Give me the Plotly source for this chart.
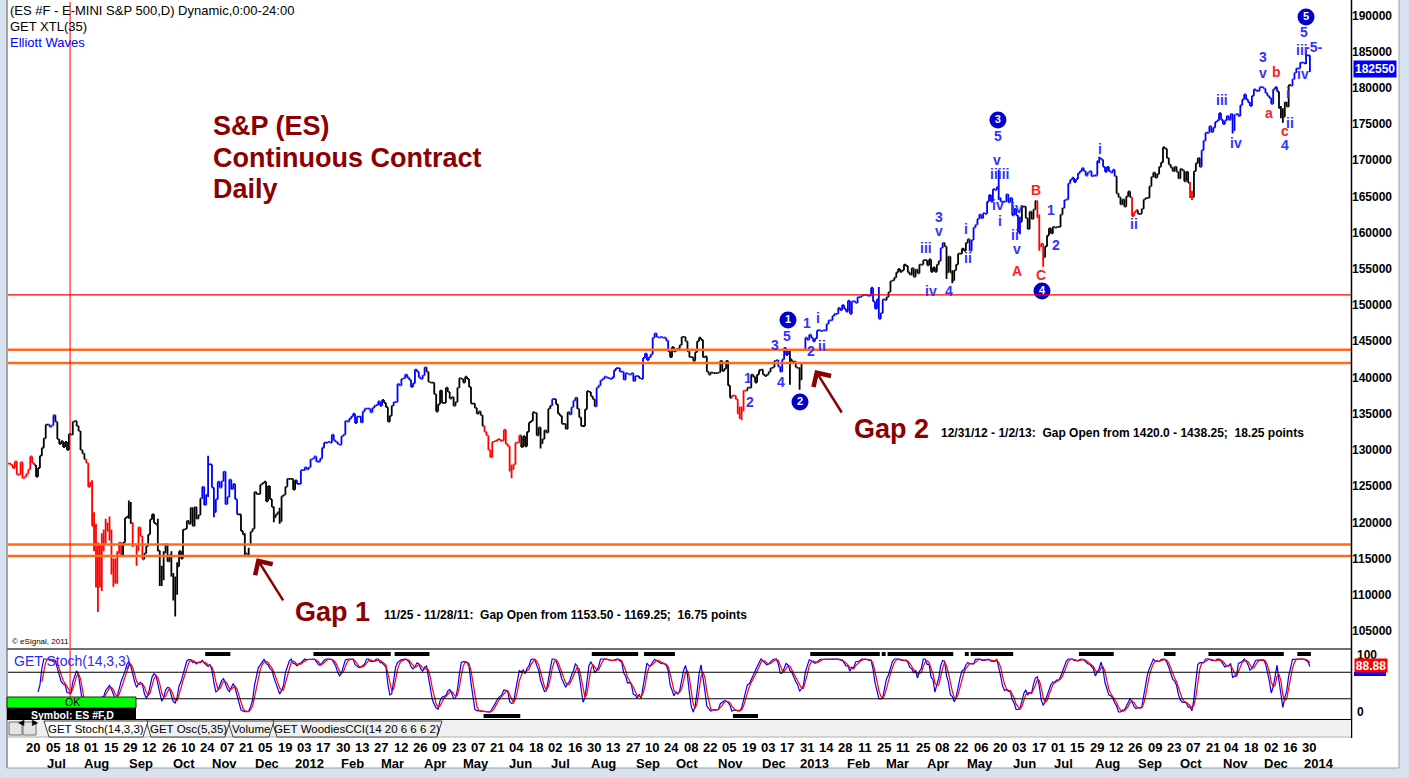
import numpy as np
import pandas as pd
import plotly.graph_objects as go

W, H = 1409, 778
FONT = "Liberation Sans, Arial, sans-serif"

# ES #F daily closes (index points), one list per month of weekdays
close_2011_06 = [1281, 1279, 1275, 1284, 1266, 1266, 1283, 1261, 1263, 1267, 1273, 1291, 1282, 1279, 1263, 1275, 1292, 1303, 1316]
close_2011_07 = [1335, 1335, 1332, 1334, 1348, 1339, 1315, 1308, 1312, 1304, 1311, 1300, 1322, 1321, 1339, 1340, 1333, 1326, 1300, 1295, 1287]
close_2011_08 = [1282, 1249, 1255, 1195, 1194, 1114, 1167, 1116, 1167, 1174, 1199, 1188, 1188, 1135, 1119, 1119, 1157, 1172, 1154, 1172, 1206, 1208, 1214]
close_2011_09 = [1199, 1169, 1169, 1161, 1193, 1181, 1149, 1157, 1167, 1183, 1204, 1211, 1199, 1197, 1161, 1125, 1131, 1158, 1170, 1146, 1155, 1126]
close_2011_10 = [1094, 1119, 1139, 1160, 1150, 1190, 1191, 1202, 1198, 1220, 1195, 1221, 1205, 1210, 1233, 1249, 1224, 1238, 1280, 1280, 1248]
close_2011_11 = [1214, 1232, 1256, 1248, 1257, 1270, 1225, 1235, 1259, 1246, 1253, 1232, 1211, 1211, 1188, 1183, 1157, 1156, 1153.5, 1187, 1191, 1242]
close_2011_12 = [1239, 1239, 1252, 1254, 1256, 1229, 1250, 1232, 1221, 1207, 1211, 1214, 1201, 1236, 1238, 1249, 1260, 1260, 1260, 1245, 1258, 1253]
close_2012_01 = [1253, 1272, 1272, 1276, 1273, 1276, 1287, 1288, 1291, 1284, 1284, 1288, 1303, 1310, 1310, 1311, 1310, 1321, 1313, 1311, 1308, 1307]
close_2012_02 = [1319, 1321, 1340, 1339, 1343, 1346, 1350, 1337, 1346, 1346, 1338, 1353, 1357, 1357, 1357, 1352, 1358, 1361, 1362, 1367, 1361]
close_2012_03 = [1369, 1365, 1359, 1339, 1347, 1361, 1366, 1366, 1391, 1389, 1398, 1399, 1404, 1400, 1397, 1387, 1392, 1411, 1408, 1400, 1398, 1403]
close_2012_04 = [1414, 1408, 1394, 1393, 1393, 1377, 1353, 1363, 1382, 1365, 1365, 1386, 1380, 1371, 1373, 1361, 1366, 1386, 1399, 1398, 1393]
close_2012_05 = [1401, 1398, 1387, 1364, 1364, 1358, 1350, 1353, 1348, 1333, 1325, 1320, 1300, 1290, 1311, 1312, 1313, 1315, 1313, 1313, 1328, 1308, 1305]
close_2012_06 = [1273, 1273, 1280, 1310, 1310, 1320, 1304, 1319, 1305, 1325, 1338, 1340, 1352, 1351, 1320, 1331, 1309, 1315, 1327, 1324, 1357]
close_2012_07 = [1361, 1370, 1370, 1363, 1350, 1347, 1336, 1336, 1329, 1352, 1349, 1359, 1368, 1372, 1357, 1345, 1333, 1333, 1356, 1381, 1380, 1374]
close_2012_08 = [1370, 1360, 1386, 1389, 1396, 1398, 1401, 1400, 1399, 1398, 1400, 1410, 1413, 1413, 1408, 1408, 1397, 1406, 1405, 1404, 1406, 1395, 1402]
close_2012_09 = [1402, 1399, 1398, 1427, 1433, 1424, 1428, 1432, 1455, 1461, 1456, 1455, 1456, 1455, 1455, 1451, 1436, 1428, 1442, 1436]
close_2012_10 = [1439, 1440, 1445, 1456, 1456, 1450, 1436, 1428, 1428, 1423, 1435, 1450, 1455, 1452, 1428, 1429, 1408, 1404, 1407, 1406, 1406, 1406, 1407]
close_2012_11 = [1423, 1409, 1412, 1423, 1389, 1372, 1375, 1375, 1370, 1350, 1348, 1354, 1382, 1382, 1386, 1386, 1404, 1401, 1393, 1404, 1410, 1411]
close_2012_12 = [1404, 1402, 1404, 1408, 1413, 1414, 1423, 1424, 1415, 1408, 1425, 1441, 1431, 1438, 1425, 1422, 1422, 1414, 1413, 1397, 1420]
close_2013_01 = [1420, 1455, 1452, 1459, 1455, 1450, 1454, 1465, 1465, 1464, 1465, 1465, 1474, 1479, 1479, 1485, 1488, 1488, 1496, 1493, 1500, 1495, 1491]
close_2013_02 = [1506, 1488, 1505, 1505, 1503, 1511, 1511, 1513, 1514, 1514, 1513, 1513, 1524, 1505, 1495, 1508, 1481, 1489, 1508, 1507]
close_2013_03 = [1511, 1518, 1533, 1534, 1538, 1545, 1550, 1546, 1548, 1556, 1554, 1545, 1542, 1551, 1539, 1549, 1544, 1556, 1556, 1562, 1562]
close_2013_04 = [1555, 1563, 1546, 1552, 1546, 1556, 1561, 1579, 1586, 1581, 1545, 1567, 1545, 1534, 1548, 1556, 1571, 1571, 1578, 1575, 1586, 1591]
close_2013_05 = [1575, 1590, 1607, 1611, 1619, 1625, 1620, 1627, 1626, 1643, 1652, 1643, 1660, 1659, 1663, 1648, 1643, 1643, 1643, 1653, 1642, 1648, 1624]
close_2013_06 = [1633, 1624, 1601, 1615, 1636, 1636, 1620, 1605, 1629, 1619, 1632, 1644, 1621, 1581, 1585, 1566, 1581, 1596, 1606, 1599]
close_2013_07 = [1608, 1607, 1608, 1608, 1625, 1634, 1645, 1646, 1668, 1673, 1676, 1670, 1674, 1682, 1685, 1689, 1685, 1679, 1683, 1685, 1678, 1679, 1679]
close_2013_08 = [1699, 1703, 1701, 1691, 1684, 1691, 1685, 1683, 1687, 1678, 1654, 1649, 1639, 1646, 1636, 1650, 1657, 1649, 1623, 1628, 1631, 1626]
close_2013_09 = [1626, 1633, 1646, 1648, 1648, 1664, 1677, 1683, 1676, 1681, 1691, 1697, 1718, 1716, 1703, 1694, 1690, 1685, 1691, 1684, 1675]
close_2013_10 = [1688, 1686, 1671, 1684, 1669, 1649, 1649, 1685, 1696, 1703, 1691, 1714, 1727, 1738, 1738, 1747, 1739, 1745, 1753, 1755, 1765, 1756, 1750]
close_2013_11 = [1755, 1761, 1756, 1764, 1741, 1763, 1764, 1761, 1776, 1784, 1791, 1784, 1780, 1775, 1789, 1798, 1796, 1796, 1801, 1801, 1799]
close_2013_12 = [1793, 1789, 1786, 1778, 1798, 1801, 1795, 1772, 1762, 1760, 1780, 1774, 1804, 1803, 1812, 1821, 1827, 1827, 1835, 1835, 1834, 1845]
close_2014_01 = [1845, 1825.5]

months = [close_2011_06, close_2011_07, close_2011_08, close_2011_09, close_2011_10, close_2011_11, close_2011_12,
          close_2012_01, close_2012_02, close_2012_03, close_2012_04, close_2012_05, close_2012_06,
          close_2012_07, close_2012_08, close_2012_09, close_2012_10, close_2012_11, close_2012_12,
          close_2013_01, close_2013_02, close_2013_03, close_2013_04, close_2013_05, close_2013_06,
          close_2013_07, close_2013_08, close_2013_09, close_2013_10, close_2013_11, close_2013_12,
          close_2014_01]

# gap opens noted on the chart
gap_opens = {"2011-11-28": 1169.25, "2013-01-02": 1438.25}

# intraday highs / lows of the bars that stick out on the chart: date -> (high, low)
bar_extremes = {
    "2011-08-04": (1258, 1195), "2011-08-05": (1214, 1160), "2011-08-08": (1198, 1110),
    "2011-08-09": (1172, 1076), "2011-08-10": (1170, 1110), "2011-08-11": (1185, 1105),
    "2011-08-12": (1190, 1160), "2011-08-15": (1205, 1170), "2011-08-17": (1208, 1175),
    "2011-08-18": (1190, 1128), "2011-08-19": (1150, 1111), "2011-08-22": (1150, 1115),
    "2011-08-23": (1160, 1115), "2011-08-31": (1230, 1205), "2011-09-01": (1228, 1198),
    "2011-09-02": (1200, 1166), "2011-09-06": (1170, 1140), "2011-09-21": (1205, 1160),
    "2011-09-22": (1160, 1112), "2011-09-23": (1140, 1112), "2011-09-26": (1160, 1120),
    "2011-09-30": (1160, 1125), "2011-10-03": (1130, 1092), "2011-10-04": (1125, 1070),
    "2011-10-05": (1145, 1100), "2011-10-27": (1292, 1235), "2011-11-01": (1240, 1207),
    "2011-11-23": (1185, 1155), "2011-11-25": (1165, 1152), "2011-12-14": (1222, 1200),
    "2011-12-19": (1220, 1198), "2012-06-01": (1305, 1270), "2012-06-04": (1280, 1261),
    "2012-06-25": (1325, 1302), "2012-11-15": (1360, 1343), "2012-11-16": (1360, 1341),
    "2012-12-21": (1438, 1390), "2012-12-28": (1414, 1383), "2013-02-25": (1525, 1481),
    "2013-04-15": (1581, 1536), "2013-04-18": (1548, 1530), "2013-05-22": (1687, 1645),
    "2013-06-06": (1622, 1598), "2013-06-20": (1625, 1575), "2013-06-24": (1585, 1553),
    "2013-08-02": (1705, 1696), "2013-08-27": (1649, 1623), "2013-10-08": (1670, 1648),
    "2013-10-09": (1658, 1645), "2013-11-07": (1764, 1737), "2013-12-12": (1775, 1758),
    "2013-12-13": (1772, 1752), "2013-12-31": (1852, 1833), "2014-01-02": (1845, 1822),
}

# GET XTL bar colouring: date where each colour starts
color_changes = [("2011-06-06", "red"), ("2011-06-24", "black"), ("2011-07-05", "blue"), ("2011-07-08", "black"),
                 ("2011-08-01", "red"), ("2011-08-26", "black"), ("2011-09-02", "red"), ("2011-09-12", "black"),
                 ("2011-10-24", "blue"), ("2011-11-18", "black"), ("2011-12-30", "blue"), ("2012-03-02", "black"),
                 ("2012-03-09", "blue"), ("2012-04-03", "black"), ("2012-05-15", "red"), ("2012-06-11", "black"),
                 ("2012-07-03", "blue"), ("2012-07-05", "black"), ("2012-07-17", "blue"), ("2012-07-20", "black"),
                 ("2012-08-03", "blue"), ("2012-09-26", "black"), ("2012-11-09", "red"), ("2012-11-21", "black"),
                 ("2012-12-12", "blue"), ("2012-12-21", "black"), ("2013-01-02", "blue"), ("2013-03-01", "black"),
                 ("2013-04-10", "blue"), ("2013-04-12", "black"), ("2013-05-01", "blue"), ("2013-06-07", "black"),
                 ("2013-06-19", "red"), ("2013-06-25", "black"), ("2013-07-09", "blue"), ("2013-08-15", "black"),
                 ("2013-08-27", "red"), ("2013-08-30", "black"), ("2013-10-08", "red"), ("2013-10-10", "black"),
                 ("2013-10-16", "blue"), ("2013-12-11", "black"), ("2013-12-20", "blue")]
bar_hex = {"black": "#000000", "blue": "#0000ff", "red": "#ff0000"}

# black run markers above / below the stochastic pane
stoch_top_runs = [("2011-10-26", "2011-11-11"), ("2012-01-12", "2012-03-07"), ("2012-03-12", "2012-04-04"),
                  ("2012-08-01", "2012-09-03"), ("2012-09-07", "2012-09-28"), ("2013-01-07", "2013-02-25"),
                  ("2013-02-27", "2013-02-28"), ("2013-03-04", "2013-04-18"), ("2013-04-29", "2013-04-30"),
                  ("2013-05-02", "2013-05-31"), ("2013-07-19", "2013-08-13"), ("2013-09-19", "2013-09-26"),
                  ("2013-10-22", "2013-12-13"), ("2013-12-25", "2014-01-02")]
stoch_bottom_runs = [("2012-05-15", "2012-06-08"), ("2012-11-12", "2012-11-28")]

red_level = 1514.0
gap_levels = [1438.25, 1420.0, 1169.25, 1153.5]

price_ticks = list(range(1050, 1901, 50))
day_labels = ["20", "05", "18", "01", "15", "29", "12", "26", "10", "24", "07", "21", "05", "19",
              "03", "17", "30", "13", "27", "12", "26", "09", "23", "07", "21", "04", "18", "02", "16", "30",
              "13", "27", "10", "24", "08", "22", "05", "19", "03", "17", "31",
              "14", "28", "11", "25", "11", "25", "08", "22", "06", "20", "03", "17", "01", "15", "29",
              "12", "26", "09", "23", "07", "21", "04", "18", "02", "16", "30"]
month_labels = ["Jul", "Aug", "Sep", "Oct", "Nov", "Dec",
                "2012", "Feb", "Mar", "Apr", "May", "Jun", "Jul", "Aug", "Sep", "Oct", "Nov", "Dec",
                "2013", "Feb", "Mar", "Apr", "May", "Jun", "Jul", "Aug", "Sep", "Oct", "Nov", "Dec", "2014"]

BL, RD = "#3333ff", "#ff2020"
# Elliott wave labels: (bar position, price, text, colour)
wave_labels = [(382.3, 1399, "1", BL), (383.3, 1366, "2", BL), (396.3, 1445, "3", BL), (399.4, 1394, "4", BL),
               (402.5, 1457, "5", BL), (412.8, 1475, "1", BL), (414.9, 1437, "2", BL), (418.5, 1482, "i", BL),
               (420.6, 1443, "ii", BL), (474.4, 1579, "iii", BL), (477.0, 1519.5, "iv", BL), (481.1, 1622, "3", BL),
               (481.1, 1602, "v", BL), (486.3, 1519.5, "4", BL), (495.1, 1605, "i", BL), (496.1, 1565, "ii", BL),
               (511.6, 1734, "5", BL), (511.1, 1701, "v", BL), (512.2, 1681, "iiiii", BL), (511.6, 1638, "iv", BL),
               (512.7, 1616, "i", BL), (521.3, 1634, "iv", BL), (520.4, 1597, "ii", BL), (521.3, 1578, "v", BL),
               (521.5, 1547, "A", RD), (531.3, 1659, "B", RD), (533.9, 1541.5, "C", RD), (539.1, 1631, "1", BL),
               (541.6, 1583, "2", BL), (564.4, 1716, "i", BL), (582.0, 1612, "ii", BL), (627.5, 1783, "iii", BL),
               (634.8, 1724, "iv", BL), (648.7, 1843, "3", BL), (648.7, 1821, "v", BL), (655.5, 1822, "b", RD),
               (651.8, 1765, "a", RD), (661.6, 1793, "i", BL), (662.7, 1751, "ii", BL), (660.1, 1741, "c", RD),
               (660.1, 1721, "4", BL), (670.0, 1877, "5", BL), (668.9, 1852, "iii", BL), (675.1, 1856, "-5-", BL),
               (669.4, 1819, "iv", BL)]
wave_circles = [(403.0, 1479.4, "1"), (409.2, 1366.2, "2"), (511.6, 1755.7, "3"), (534.4, 1519.5, "4"),
                (671.0, 1898.0, "5")]

# ---- build bars
dates = pd.bdate_range("2011-06-06", "2014-01-02")
c = np.array([v for m in months for v in m], dtype=float)
N = len(c)
assert N == len(dates)
xi = np.arange(N)
o = np.r_[c[0], c[:-1]]
for d, v in gap_opens.items():
    o[dates.get_loc(pd.Timestamp(d))] = v
hi = np.maximum(o, c)
lo = np.minimum(o, c)
for d, (bh, bl) in bar_extremes.items():
    i = dates.get_loc(pd.Timestamp(d))
    hi[i] = max(hi[i], bh)
    lo[i] = min(lo[i], bl)

colors = np.empty(N, dtype=object)
for d, col in color_changes:
    colors[dates >= pd.Timestamp(d)] = col

# Stoch(14,3,3)
hh = pd.Series(hi).rolling(14).max()
ll = pd.Series(lo).rolling(14).min()
raw = 100 * (pd.Series(c) - ll) / (hh - ll)
k_line = raw.rolling(3).mean()
d_line = k_line.rolling(3).mean()


def PX(x):
    return x / W


def PY(y):
    return 1 - y / H


def pos(d):
    return dates.get_indexer([pd.Timestamp(d)], method="bfill")[0]


fig = go.Figure()
for col in ["black", "blue", "red"]:
    m = colors == col
    fig.add_trace(go.Ohlc(x=xi[m], open=o[m], high=hi[m], low=lo[m], close=c[m],
                          increasing=dict(line=dict(color=bar_hex[col], width=1.8)),
                          decreasing=dict(line=dict(color=bar_hex[col], width=1.8)),
                          tickwidth=0.5, hoverinfo="skip", showlegend=False, xaxis="x", yaxis="y"))

fig.add_trace(go.Scatter(x=xi, y=k_line, mode="lines", line=dict(color="#0000ff", width=1.2),
                         xaxis="x2", yaxis="y2", showlegend=False, hoverinfo="skip"))
fig.add_trace(go.Scatter(x=xi, y=d_line, mode="lines", line=dict(color="#ff0000", width=1.2),
                         xaxis="x2", yaxis="y2", showlegend=False, hoverinfo="skip"))


def runs_xy(runs, level):
    xs, ys = [], []
    for a, b in runs:
        xs += [pos(a) - 0.5, pos(b) + 0.5, None]
        ys += [level, level, None]
    return xs, ys


for runs, lev in [(stoch_top_runs, 109.4), (stoch_bottom_runs, -7.5)]:
    rx, ry = runs_xy(runs, lev)
    fig.add_trace(go.Scatter(x=rx, y=ry, mode="lines", line=dict(color="black", width=4),
                             xaxis="x2", yaxis="y2", showlegend=False, hoverinfo="skip"))

fig.add_trace(go.Scatter(x=[w[0] for w in wave_circles], y=[w[1] for w in wave_circles],
                         mode="markers+text", text=[w[2] for w in wave_circles],
                         marker=dict(size=17, color="#0000cc"), textposition="middle center",
                         textfont=dict(color="white", size=11, family=FONT, weight="bold"),
                         xaxis="x", yaxis="y", showlegend=False, hoverinfo="skip"))

shapes = []


def rect(x0, y0, x1, y1, fill, line=None, lw=0, layer="above"):
    shapes.append(dict(type="rect", xref="paper", yref="paper", x0=PX(x0), x1=PX(x1), y0=PY(y1), y1=PY(y0),
                       fillcolor=fill, line=dict(color=line or fill, width=lw), layer=layer))


def pline(x0, y0, x1, y1, color, w=1):
    shapes.append(dict(type="line", xref="paper", yref="paper", x0=PX(x0), x1=PX(x1), y0=PY(y0), y1=PY(y1),
                       line=dict(color=color, width=w)))


rect(7, 0, 1399, 768, "white", layer="below")
pline(7, 0, 7, 768, "#8a8a8a", 1.5)
pline(7, 768, 1399, 768, "#a0a0a0", 1)
pline(1399, 0, 1399, 768, "#a0a0a0", 1)

for lev in gap_levels:
    shapes.append(dict(type="line", xref="paper", yref="y", x0=PX(8), x1=PX(1351), y0=lev, y1=lev,
                       line=dict(color="#ff6a1c", width=2.5)))
shapes.append(dict(type="line", xref="paper", yref="y", x0=PX(8), x1=PX(1351), y0=red_level, y1=red_level,
                   line=dict(color="#ff0000", width=1.2)))
for lev in [75, 25]:
    shapes.append(dict(type="line", xref="paper", yref="y2", x0=PX(8), x1=PX(1351), y0=lev, y1=lev,
                       line=dict(color="black", width=1.2)))

# cursor line
shapes.append(dict(type="line", xref="x", yref="paper", x0=31.6, x1=31.6, y0=PY(720), y1=PY(2),
                   line=dict(color="#ff0000", width=1)))

pline(7, 649, 1351, 649, "#707070", 2)
pline(7, 719.5, 1351, 719.5, "black", 1)
pline(1351.5, 0, 1351.5, 738, "black", 1.5)

# tab bar
rect(8, 720, 1351, 737, "#f0f0f0")
pline(8, 737, 1351, 737, "#b0b0b0", 1)
rect(9, 722, 22, 735, "#e4e4e4", "#707070", 1)
rect(23, 722, 36, 735, "#e4e4e4", "#707070", 1)
tabs = [(44, 148, "GET Stoch(14,3,3)", "white"), (146, 230, "GET Osc(5,35)", "#f0f0f0"),
        (228, 274, "Volume", "#f0f0f0"), (272, 442, "GET WoodiesCCI(14 20 6 6 6 2)", "#f0f0f0")]
for xl, xr, _, fill in reversed(tabs):
    path = "M {} {} L {} {} L {} {} L {} {} Z".format(PX(xl), PY(721), PX(xl + 5), PY(737),
                                                      PX(xr - 5), PY(737), PX(xr), PY(721))
    shapes.append(dict(type="path", xref="paper", yref="paper", path=path, fillcolor=fill,
                       line=dict(color="#404040", width=1)))

# OK / symbol boxes
rect(7, 697, 136, 708, "#00ff00", "#202020", 1)
rect(7, 708, 136, 720, "black")

# last-value strip under the stoch readout
rect(1354, 672, 1386, 676, "#0000ff")

ann = []


def text(x, y, s, size=13, color="black", bold=False, xanchor="left", xref="paper", yref="paper", **kw):
    ann.append(dict(x=x, y=y, xref=xref, yref=yref, text=s, showarrow=False, xanchor=xanchor, yanchor="middle",
                    font=dict(size=size, color=color, family=FONT, weight="bold" if bold else "normal"), **kw))


text(PX(8), PY(10.5), "(ES #F - E-MINI S&P 500,D) Dynamic,0:00-24:00")
text(PX(8), PY(26.5), "GET XTL(35)")
text(PX(8), PY(42.5), "Elliott Waves", color="#0000ff")
text(PX(10), PY(641), "© eSignal, 2011", size=8)

DR = "#8b0000"
text(PX(211), PY(126), "S&P (ES)", size=27, color=DR, bold=True)
text(PX(211), PY(158), "Continuous Contract", size=27, color=DR, bold=True)
text(PX(211), PY(189), "Daily", size=27, color=DR, bold=True)

text(PX(293), PY(612), "Gap 1", size=27, color=DR, bold=True)
text(PX(382), PY(615), "11/25 - 11/28/11:  Gap Open from 1153.50 - 1169.25;  16.75 points", size=12, bold=True)
text(PX(852), PY(429), "Gap 2", size=27, color=DR, bold=True)
text(PX(939), PY(433), "12/31/12 - 1/2/13:  Gap Open from 1420.0 - 1438.25;  18.25 points", size=12, bold=True)

for (hx, hy, tx, ty) in [(128.1, 1150.3, 142.3, 1090.2), (417.0, 1410.4, 431.3, 1349.6)]:
    ann.append(dict(x=hx, y=hy, ax=tx, ay=ty, xref="x", yref="y", axref="x", ayref="y", text="",
                    showarrow=True, arrowhead=4, arrowsize=1.6, arrowwidth=2.5, arrowcolor=DR))

for bx, by, s, col in wave_labels:
    text(bx, by, s, size=14, color=col, bold=True, xanchor="center", xref="x", yref="y")

text(PX(1353), 1825.5, "182550", size=12, color="white", bold=True, yref="y", bgcolor="#0000ff", borderpad=1)
# stoch scale labels and readout (readout box partly covers the 100 label, as on the chart)
text(PX(1355), PY(655), "100", size=12, bold=True)
text(PX(1355), PY(712), "0", size=12, bold=True)
ann.append(dict(x=PX(1354), y=PY(665), xref="paper", yref="paper", text="88.88", showarrow=False,
                xanchor="left", yanchor="middle", bgcolor="#ff0000", borderpad=0, width=32, height=13,
                font=dict(size=12, color="white", family=FONT, weight="bold")))

text(PX(12), PY(661), "GET Stoch(14,3,3)", size=14, color="#2a2aff")
text(PX(72), PY(702), "OK", size=10.5, xanchor="center")
text(PX(72), PY(714.5), "Symbol: ES #F,D", size=10.5, color="white", bold=True, xanchor="center")
ann.append(dict(x=PX(15.5), y=PY(729), xref="paper", yref="paper", text="◀", showarrow=False,
                font=dict(size=8, color="black", family="DejaVu Sans")))
ann.append(dict(x=PX(29.5), y=PY(729), xref="paper", yref="paper", text="▶", showarrow=False,
                font=dict(size=8, color="black", family="DejaVu Sans")))
for xl, xr, lab, _ in tabs:
    text(PX((xl + xr) / 2), PY(729), lab, size=11.5, xanchor="center")

for k, lab in enumerate(day_labels):
    text(12.67 + 10 * k, PY(747), lab, size=13, bold=True, xanchor="center", xref="x")
month_first = pd.Series(xi, index=dates).groupby(dates.to_period("M")).first().values[1:]
for lab, p in zip(month_labels, month_first):
    text(p + 5.5, PY(763), lab, size=13, bold=True, xanchor="center", xref="x")

xr_ = [(8 - 9) / 1.933, (1351 - 9) / 1.933]
fig.update_layout(
    width=W, height=H, autosize=False, margin=dict(l=0, r=0, t=0, b=0),
    paper_bgcolor="#d6e2ef", plot_bgcolor="white", showlegend=False,
    xaxis=dict(domain=[PX(8), PX(1351)], range=xr_, anchor="y", showticklabels=False, showgrid=False,
               zeroline=False, rangeslider=dict(visible=False), fixedrange=True),
    yaxis=dict(domain=[PY(648), PY(2)], range=[1026.4, 1918.6], anchor="x", side="right",
               tickvals=price_ticks, ticktext=[str(v * 100) for v in price_ticks], ticks="",
               tickfont=dict(size=12, color="black", family=FONT, weight="bold"),
               showgrid=False, zeroline=False),
    xaxis2=dict(domain=[PX(8), PX(1351)], range=xr_, anchor="y2", showticklabels=False, showgrid=False,
                zeroline=False),
    yaxis2=dict(domain=[PY(719), PY(649)], range=[-13.2, 118.9], anchor="x2", side="right",
                showticklabels=False, ticks="", showgrid=False, zeroline=False),
    shapes=shapes, annotations=ann,
)

fig.write_html("out.html", config={"displayModeBar": False},
               post_script="document.body.style.margin='0';document.body.style.overflow='hidden';")
